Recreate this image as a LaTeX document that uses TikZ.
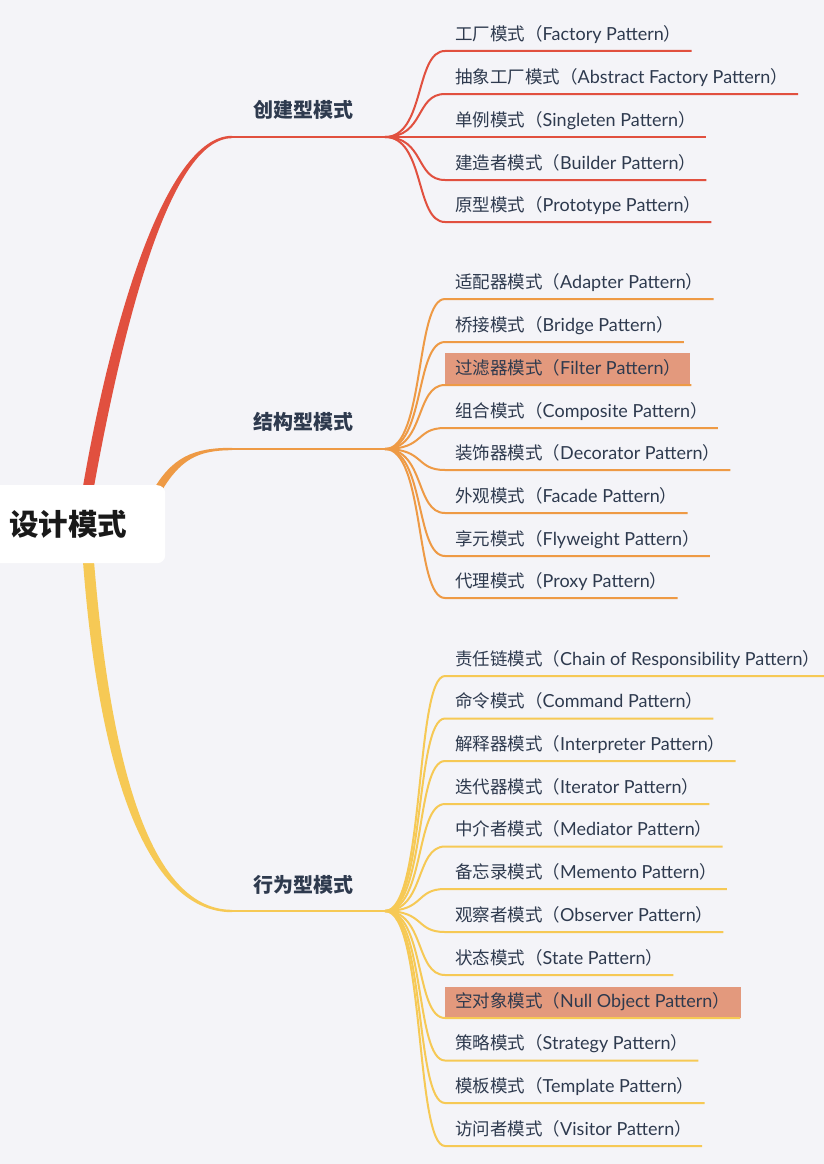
\documentclass[tikz,border=0pt]{standalone}
\usepackage{fontspec}
\setmainfont{Lato}
\newfontfamily\cjk{Noto Sans CJK SC}
\usetikzlibrary{calc}
\definecolor{bgc}{HTML}{F4F4F8}
\definecolor{cred}{HTML}{E1503F}
\definecolor{corange}{HTML}{EE9A45}
\definecolor{cyellow}{HTML}{F6C955}
\definecolor{ctext}{HTML}{2E3A4E}
\definecolor{chl}{HTML}{E3997D}
\tikzset{
  childnode/.style={anchor=south west, inner xsep=10pt, inner ysep=0pt,
    text height=21.5pt, text depth=10.5pt, text=ctext,
    font=\fontsize{18}{20}\selectfont},
  conn/.style={draw=#1, line width=2pt},
  mainlabel/.style={text=ctext, font=\fontsize{20}{24}\selectfont\cjk\bfseries},
  hlbox/.style={fill=chl}
}
\newcommand\cj[1]{{\fontsize{17.5}{20}\selectfont\cjk #1}}
\newcommand\pchild[6]{%
  \node[childnode] (#1) at (445,#3) {\cj{#4（}#5\cj{）}};
  \draw[conn=#6] let \p1=(#2), \p2=(#1.south west) in
    (\p1) .. controls (\x1+40pt,\y1) and (\x2-30pt,\y2) .. (\p2) -- (#1.south east);
}
\begin{document}
\begin{tikzpicture}[x=1pt,y=-1pt]
\fill[bgc] (0,0) rectangle (824,1164);
\useasboundingbox (0,0) rectangle (824,1164);
% forks
\coordinate (fr) at (385,137);
\coordinate (fo) at (385,449);
\coordinate (fy) at (385,911);
\coordinate (jr) at (232,137);
\coordinate (jo) at (232,449);
\coordinate (jy) at (232,911);
% tapered main branches
\fill[cred] (81.5,495) .. controls (110,326) and (165,135.8) .. (232,135.8)
  -- (232,138.2) .. controls (169,138.2) and (122,330) .. (92.5,495) -- cycle;
\fill[corange] (152,492) .. controls (172,456.5) and (194,447.8) .. (232,447.8)
  -- (232,450.2) .. controls (197,450.2) and (180,460) .. (161,492) -- cycle;
\fill[cyellow] (82.5,555) .. controls (99,782) and (150,912.2) .. (232,912.2)
  -- (232,909.8) .. controls (154,909.8) and (111,778) .. (93.5,555) -- cycle;
\draw[cred, line width=2.4pt] (jr) -- (fr);
\draw[corange, line width=2.4pt] (jo) -- (fo);
\draw[cyellow, line width=2.4pt] (jy) -- (fy);
% root
\node[fill=white, rounded corners=8pt, minimum height=78pt, text width=175pt,
  inner xsep=0pt, anchor=north west, text=black!90,
  font=\fontsize{29.5}{34}\selectfont\cjk\bfseries] (root) at (-10,485)
  {\hspace*{19pt}设计模式};
% main labels
\node[mainlabel] (lr) at (303,110) {创建型模式};
\node[mainlabel] (lo) at (303,422) {结构型模式};
\node[mainlabel] (ly) at (303,885) {行为型模式};
% highlights
\fill[hlbox] (445,353) rectangle (690,385);
\fill[hlbox] (445,987) rectangle (741,1018);
% creational
\pchild{r1}{fr}{51}{工厂模式}{Factory Pattern}{cred}
\pchild{r2}{fr}{94}{抽象工厂模式}{Abstract Factory Pattern}{cred}
\pchild{r3}{fr}{137}{单例模式}{Singleten Pattern}{cred}
\pchild{r4}{fr}{180}{建造者模式}{Builder Pattern}{cred}
\pchild{r5}{fr}{222}{原型模式}{Prototype Pattern}{cred}
% structural
\pchild{o1}{fo}{299}{适配器模式}{Adapter Pattern}{corange}
\pchild{o2}{fo}{342}{桥接模式}{Bridge Pattern}{corange}
\pchild{o3}{fo}{385}{过滤器模式}{Filter Pattern}{corange}
\pchild{o4}{fo}{428}{组合模式}{Composite Pattern}{corange}
\pchild{o5}{fo}{470}{装饰器模式}{Decorator Pattern}{corange}
\pchild{o6}{fo}{513}{外观模式}{Facade Pattern}{corange}
\pchild{o7}{fo}{556}{享元模式}{Flyweight Pattern}{corange}
\pchild{o8}{fo}{598}{代理模式}{Proxy Pattern}{corange}
% behavioral
\pchild{y1}{fy}{676}{责任链模式}{Chain of Responsibility Pattern}{cyellow}
\pchild{y2}{fy}{718.5}{命令模式}{Command Pattern}{cyellow}
\pchild{y3}{fy}{761}{解释器模式}{Interpreter Pattern}{cyellow}
\pchild{y4}{fy}{804}{迭代器模式}{Iterator Pattern}{cyellow}
\pchild{y5}{fy}{846.5}{中介者模式}{Mediator Pattern}{cyellow}
\pchild{y6}{fy}{889}{备忘录模式}{Memento Pattern}{cyellow}
\pchild{y7}{fy}{932}{观察者模式}{Observer Pattern}{cyellow}
\pchild{y8}{fy}{975}{状态模式}{State Pattern}{cyellow}
\pchild{y9}{fy}{1018}{空对象模式}{Null Object Pattern}{cyellow}
\pchild{y10}{fy}{1060.5}{策略模式}{Strategy Pattern}{cyellow}
\pchild{y11}{fy}{1103}{模板模式}{Template Pattern}{cyellow}
\pchild{y12}{fy}{1146}{访问者模式}{Visitor Pattern}{cyellow}
\end{tikzpicture}
\end{document}
